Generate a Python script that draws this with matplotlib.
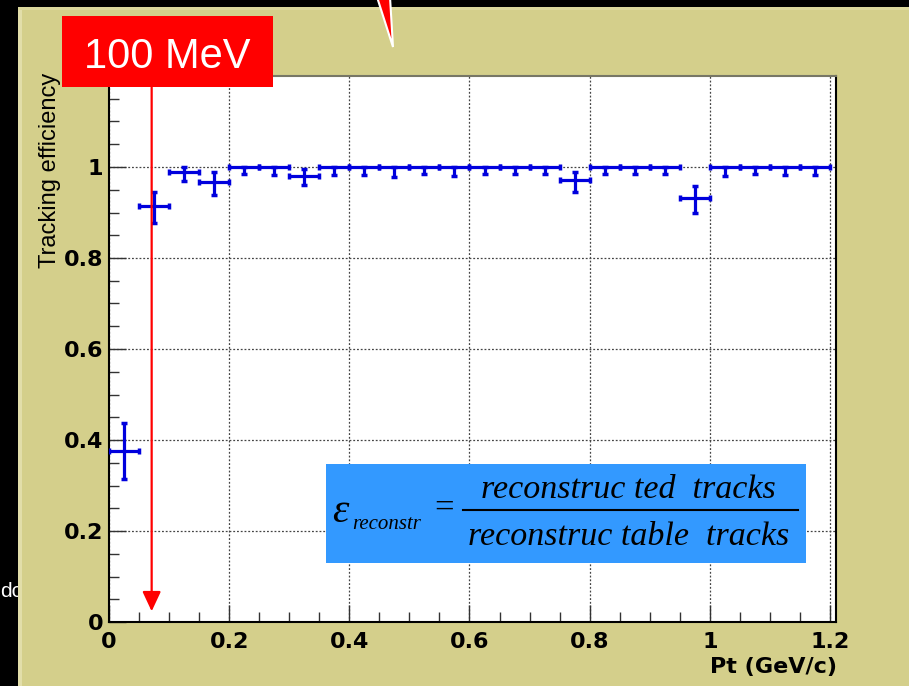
import numpy as np
import matplotlib
matplotlib.use("Agg")
from matplotlib import pyplot as plt
from matplotlib.patches import Rectangle, Polygon
from matplotlib.lines import Line2D

W, H = 909, 686

# Tracking efficiency per Pt bin (bin centres in GeV/c)
pt = [0.025, 0.075, 0.125, 0.175, 0.225, 0.275, 0.325, 0.375,
      0.425, 0.475, 0.525, 0.575, 0.625, 0.675, 0.725, 0.775,
      0.825, 0.875, 0.925, 0.975, 1.025, 1.075, 1.125, 1.175]
eff = [0.376, 0.914, 0.988, 0.967, 1.000, 1.000, 0.981, 1.000,
       1.000, 1.000, 1.000, 1.000, 1.000, 1.000, 1.000, 0.972,
       1.000, 1.000, 1.000, 0.932, 1.000, 1.000, 1.000, 1.000]
err_lo = [0.061, 0.038, 0.019, 0.028, 0.015, 0.017, 0.020, 0.017,
          0.018, 0.022, 0.016, 0.020, 0.016, 0.016, 0.016, 0.027,
          0.016, 0.016, 0.015, 0.033, 0.020, 0.016, 0.018, 0.018]
err_hi = [0.062, 0.031, 0.012, 0.021, 0.000, 0.000, 0.015, 0.000,
          0.000, 0.000, 0.000, 0.000, 0.000, 0.000, 0.000, 0.017,
          0.000, 0.000, 0.000, 0.026, 0.000, 0.000, 0.000, 0.000]
bin_width = 0.05

xticks = [0, 0.2, 0.4, 0.6, 0.8, 1.0, 1.2]
xticklabels = ["0", "0.2", "0.4", "0.6", "0.8", "1", "1.2"]
yticks = [0, 0.2, 0.4, 0.6, 0.8, 1.0]
yticklabels = ["0", "0.2", "0.4", "0.6", "0.8", "1"]
cut_pt = 0.071   # marked low-Pt threshold


def fx(x):
    return x / W


def fy(y):
    return 1 - y / H


fig = plt.figure(figsize=(W / 100, H / 100), dpi=100, facecolor="black")

# khaki canvas behind the pad
fig.text(fx(0), fy(597), "dc", color="white", fontsize=15,
         family="Liberation Sans", ha="left", va="baseline", zorder=-3)
fig.patches.append(Rectangle((fx(18), 0), 1 - fx(18), fy(7), transform=fig.transFigure,
                             facecolor="#d4cf8b", edgecolor="none", zorder=-2))
fig.patches.append(Rectangle((fx(18), 0), fx(4), fy(7), transform=fig.transFigure,
                             facecolor="#e2deaa", edgecolor="none", zorder=-1))
fig.patches.append(Rectangle((fx(18), fy(10)), 1 - fx(18), fy(7) - fy(10),
                             transform=fig.transFigure,
                             facecolor="#dcd89c", edgecolor="none", zorder=-1))

ax = fig.add_axes([fx(109), fy(622), fx(836 - 109), fy(76) - fy(622)])
ax.set_facecolor("white")

ax.errorbar(pt, eff, xerr=bin_width / 2, yerr=[err_lo, err_hi], fmt="none",
            ecolor="#0000dd", elinewidth=2.3, capsize=2.2, capthick=2.5, zorder=3)

ax.set_xlim(0, 1.21)
ax.set_ylim(0, 1.2)
ax.set_xticks(xticks)
ax.set_xticklabels(xticklabels)
ax.set_yticks(yticks)
ax.set_yticklabels(yticklabels)
ax.set_xticks(np.arange(0, 1.21, 0.05), minor=True)
ax.set_yticks(np.arange(0, 1.2, 0.05), minor=True)
ax.tick_params(which="both", direction="in", top=False, right=False,
               color="#333333", width=1)
ax.tick_params(which="major", length=12)
ax.tick_params(which="minor", length=7)
ax.tick_params(axis="x", pad=7)
ax.tick_params(axis="y", pad=4)
for lab in ax.get_xticklabels() + ax.get_yticklabels():
    lab.set_fontfamily("DejaVu Sans")
    lab.set_fontweight("bold")
    lab.set_fontsize(16)
    lab.set_color("black")

ax.grid(True, which="major", linestyle=(0, (1.5, 1.5)), color="#444444", linewidth=0.9)
ax.set_axisbelow(True)
for side in ["left", "bottom", "right"]:
    ax.spines[side].set_color("black")
    ax.spines[side].set_linewidth(1.5)
ax.spines["top"].set_color("#777766")
ax.spines["top"].set_linewidth(1.5)

fig.text(fx(50), fy(73), "Tracking efficiency", rotation=90, ha="center", va="top",
         family="Liberation Sans", fontsize=17, color="black")
fig.text(fx(837), fy(667), "Pt (GeV/c)", ha="right", va="center",
         family="DejaVu Sans", fontweight="bold", fontsize=16, color="black")

# threshold arrow
ax.annotate("", xy=(cut_pt, 0.0235), xytext=(cut_pt, 1.175),
            arrowprops=dict(arrowstyle="-|>,head_length=0.6,head_width=0.28",
                            mutation_scale=20, color="#ff0000", lw=1.6,
                            shrinkA=0, shrinkB=0),
            annotation_clip=False, zorder=4)

fig.patches.append(Rectangle((fx(62), fy(87)), fx(273 - 62), fy(16) - fy(87),
                             transform=fig.transFigure, facecolor="#ff0000",
                             edgecolor="none", zorder=5))
fig.text(fx(167), fy(68), "100 MeV", ha="center", va="baseline", color="white",
         family="Liberation Sans", fontsize=30, zorder=6)

# callout pointer coming from above
fig.patches.append(Polygon([(fx(377), fy(-3)), (fx(390), fy(-3)), (fx(393), fy(47))],
                           closed=True, transform=fig.transFigure, facecolor="#ff0000",
                           edgecolor="white", linewidth=1.5, zorder=6))

# efficiency definition box
fig.patches.append(Rectangle((fx(326), fy(563)), fx(806 - 326), fy(464) - fy(563),
                             transform=fig.transFigure, facecolor="#3399ff",
                             edgecolor="none", zorder=5))
serif = "Liberation Serif"
fig.text(fx(340), fy(522), "ε", ha="center", va="baseline", family=serif,
         style="italic", fontsize=30, zorder=6)
fig.text(fx(352), fy(529), "reconstr", ha="left", va="baseline", family=serif,
         style="italic", fontsize=15, zorder=6)
fig.text(fx(444), fy(518), "=", ha="center", va="baseline", family=serif,
         fontsize=25, zorder=6)
fig.lines.append(Line2D([fx(463), fx(798)], [fy(510), fy(510)], transform=fig.transFigure,
                        color="black", linewidth=1.5, zorder=6))
fig.text(fx(628), fy(498), "reconstruc ted  tracks", ha="center", va="baseline",
         family=serif, style="italic", fontsize=24.5, zorder=6)
fig.text(fx(629), fy(545), "reconstruc table  tracks", ha="center", va="baseline",
         family=serif, style="italic", fontsize=24.5, zorder=6)

fig.savefig("out.png", dpi=100, facecolor=fig.get_facecolor())
